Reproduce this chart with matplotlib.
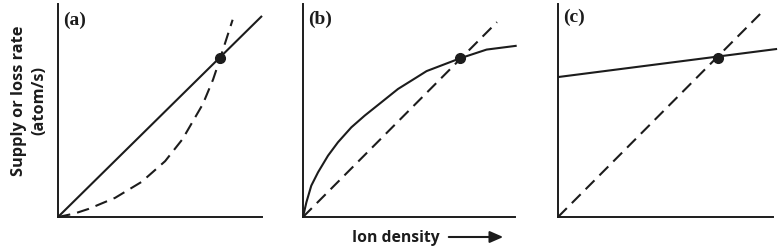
import matplotlib
matplotlib.use("Agg")
import matplotlib.pyplot as plt
from matplotlib.patches import FancyArrowPatch

# ---- data (normalised axis units) ----
a_solid_x = [0.0, 1.0]
a_solid_y = [0.0, 0.944]
a_dash_x = [0.0, 0.08, 0.15, 0.28, 0.41, 0.525, 0.61, 0.71, 0.76, 0.794, 0.856]
a_dash_y = [0.0, 0.016, 0.038, 0.090, 0.165, 0.262, 0.365, 0.53, 0.645, 0.742, 0.926]
a_dot = (0.794, 0.745)

b_solid_x = [0.0, 0.016, 0.039, 0.071, 0.118, 0.165, 0.228, 0.291, 0.369,
             0.448, 0.535, 0.583, 0.741, 0.866, 1.008]
b_solid_y = [0.0, 0.069, 0.147, 0.21, 0.288, 0.351, 0.421, 0.476, 0.538,
             0.601, 0.655, 0.685, 0.745, 0.786, 0.804]
b_dash_x = [0.0, 0.915]
b_dash_y = [0.0, 0.915]
b_dot = (0.741, 0.745)

c_solid_x = [0.0, 1.019]
c_solid_y = [0.657, 0.789]
c_dash_x = [0.0, 0.94]
c_dash_y = [0.0, 0.953]
c_dot = (0.744, 0.746)

panel_labels = ["(a)", "(b)", "(c)"]
ylabel = "Supply or loss rate\n(atom/s)"
xlabel = "Ion density"

W, H = 780, 251
fig = plt.figure(figsize=(W / 100, H / 100), dpi=100)
fig.patch.set_facecolor("white")

ink = "#1c1c1c"
lw = 1.5
dash = (0, (6.0, 3.4))

boxes = [(58, 262), (303, 515), (558, 773)]
label_pos = [(75, 20), (320, 19), (574, 17)]
series = [
    (a_solid_x, a_solid_y, a_dash_x, a_dash_y, a_dot),
    (b_solid_x, b_solid_y, b_dash_x, b_dash_y, b_dot),
    (c_solid_x, c_solid_y, c_dash_x, c_dash_y, c_dot),
]
y_bot, y_top = 218, 5

for (l, r), (sx, sy, dx, dy, dot), lab, (lx, ly) in zip(boxes, series, panel_labels, label_pos):
    ax = fig.add_axes([l / W, (H - y_bot) / H, (r - l) / W, (y_bot - y_top) / H])
    ax.set_xlim(0, 1)
    ax.set_ylim(0, 1)
    for s in ["top", "right"]:
        ax.spines[s].set_visible(False)
    for s in ["left", "bottom"]:
        ax.spines[s].set_linewidth(1.4)
        ax.spines[s].set_color(ink)
    ax.set_xticks([])
    ax.set_yticks([])
    ax.patch.set_alpha(0)
    ax.plot(sx, sy, color=ink, lw=lw, clip_on=False, solid_capstyle="butt",
            solid_joinstyle="round")
    ax.plot(dx, dy, color=ink, lw=lw, ls=dash, clip_on=False)
    ax.plot([dot[0]], [dot[1]], "o", color=ink, ms=7, clip_on=False)
    fig.text(lx / W, 1 - ly / H, lab, ha="center", va="center",
             fontsize=14, fontweight="bold", family="Liberation Serif", color=ink)

fig.text(29 / W, 1 - 101 / H, ylabel, rotation=90, ha="center", va="center",
         fontsize=11.8, fontweight="bold", family="Open Sans", color=ink,
         linespacing=1.35)
fig.text(396 / W, 1 - 238 / H, xlabel, ha="center", va="center",
         fontsize=11.3, fontweight="bold", family="Open Sans", color=ink)

arrow = FancyArrowPatch((446 / W, 1 - 238 / H), (506 / W, 1 - 238 / H),
                        transform=fig.transFigure, arrowstyle="-|>,head_length=8,head_width=3.5",
                        color=ink, lw=1.5, mutation_scale=1)
fig.add_artist(arrow)

fig.savefig("out.png", dpi=100, facecolor="white")
